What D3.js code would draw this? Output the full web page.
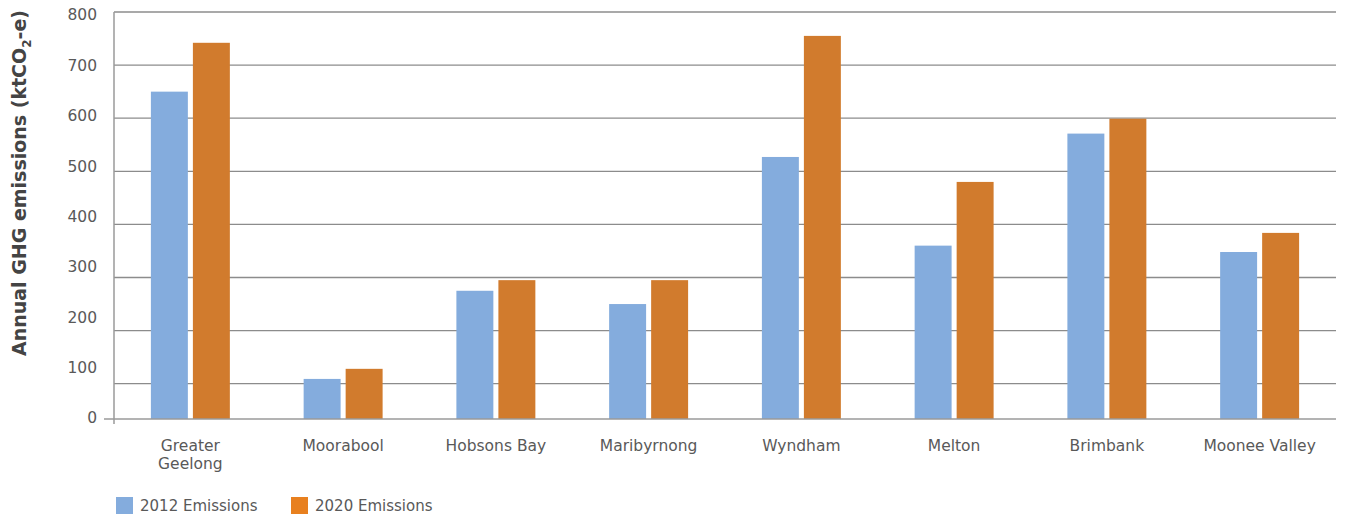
<!DOCTYPE html>
<html>
<head>
<meta charset="utf-8">
<script src="https://cdn.jsdelivr.net/npm/d3@7"></script>
<style>
  html, body { margin: 0; padding: 0; background: #fff; }
  svg { display: block; font-family: "DejaVu Sans", sans-serif; }
</style>
</head>
<body>
<svg id="chart" width="1346" height="515"></svg>
<script>
// Annual GHG emissions by municipality (ktCO2-e)
const categories = [
  ["Greater", "Geelong"], ["Moorabool"], ["Hobsons Bay"], ["Maribyrnong"],
  ["Wyndham"], ["Melton"], ["Brimbank"], ["Moonee Valley"]
];
const seriesNames = ["2012 Emissions", "2020 Emissions"];
const emissions2012 = [650, 109, 275, 250, 527, 360, 571, 348];
const emissions2020 = [742, 128, 295, 295, 755, 480, 599, 384];
const gridValues = [100, 200, 300, 400, 500, 600, 700, 800];
const tickLabels = [0, 100, 200, 300, 400, 500, 600, 700, 800];

const barColors = ["#84acdd", "#d17b2d"];
const legendColors = ["#84acdd", "#e8801f"];
const textColor = "#595959";

const svg = d3.select("#chart");
const plotLeft = 114, plotRight = 1336, plotTop = 12, baseline = 419;

const keys = categories.map(c => c.join(" "));
const x0 = d3.scaleBand().domain(keys).range([plotLeft, plotRight])
  .paddingInner(0.483).paddingOuter(0.2415);
const x1 = d3.scaleBand().domain(seriesNames).range([0, x0.bandwidth()])
  .paddingInner(0.12);

// value scale for bars and gridlines
const y = d3.scaleLinear().domain([100, 800]).range([383.7, plotTop]);
// value labels along the left edge
const yLabel = d3.scaleLinear().domain([0, 800]).range([418, 15]);

// gridlines
svg.append("g").selectAll("line").data(gridValues).join("line")
  .attr("x1", plotLeft).attr("x2", plotRight)
  .attr("y1", d => y(d)).attr("y2", d => y(d))
  .attr("stroke", "#8c8c8c").attr("stroke-width", 1.3);

// bars
const rows = keys.map((k, i) => ({ key: k, values: [emissions2012[i], emissions2020[i]] }));
const groups = svg.append("g").selectAll("g").data(rows).join("g")
  .attr("transform", d => `translate(${x0(d.key)},0)`);
groups.selectAll("rect")
  .data(d => d.values.map((v, j) => ({ name: seriesNames[j], value: v, j })))
  .join("rect")
  .attr("x", d => x1(d.name))
  .attr("width", x1.bandwidth())
  .attr("y", d => y(d.value))
  .attr("height", d => baseline - y(d.value))
  .attr("fill", d => barColors[d.j]);

// axes lines
const axisColor = "#9a9a9a";
svg.append("line").attr("x1", plotLeft).attr("x2", plotLeft).attr("y1", plotTop).attr("y2", 424)
  .attr("stroke", axisColor).attr("stroke-width", 1.5);
svg.append("line").attr("x1", 104).attr("x2", plotRight).attr("y1", baseline).attr("y2", baseline)
  .attr("stroke", axisColor).attr("stroke-width", 1.5);

// y tick labels
const yAxis = svg.append("g").attr("transform", "translate(97,0)")
  .call(d3.axisLeft(yLabel).tickValues(tickLabels).tickSize(0).tickPadding(0));
yAxis.select(".domain").remove();
yAxis.selectAll("text")
  .attr("fill", textColor).style("font-size", "15.5px").style("font-family", "'DejaVu Sans', sans-serif");

// category labels
const catLabels = svg.append("g").selectAll("text").data(categories).join("text")
  .attr("x", (d, i) => x0(keys[i]) + x0.bandwidth() / 2)
  .attr("y", 451)
  .attr("text-anchor", "middle")
  .attr("fill", textColor)
  .style("font-size", "15.5px");
catLabels.selectAll("tspan").data(d => d).join("tspan")
  .attr("x", function () { return d3.select(this.parentNode).attr("x"); })
  .attr("dy", (d, i) => i === 0 ? 0 : 18)
  .text(d => d);

// y axis title
const title = svg.append("text")
  .attr("transform", "translate(26,183) rotate(-90)")
  .attr("text-anchor", "middle")
  .attr("fill", "#444")
  .style("font-size", "19px")
  .style("font-weight", "bold");
title.append("tspan").text("Annual GHG emissions (ktCO");
title.append("tspan").attr("dy", 5).style("font-size", "12px").text("2");
title.append("tspan").attr("dy", -5).text("-e)");

// legend
const legend = svg.append("g").selectAll("g").data(seriesNames).join("g")
  .attr("transform", (d, i) => `translate(${116 + i * 175},497)`);
legend.append("rect").attr("width", 17).attr("height", 17)
  .attr("fill", (d, i) => legendColors[i]);
legend.append("text").attr("x", 24).attr("y", 14)
  .attr("fill", textColor).style("font-size", "15px").text(d => d);
</script>
</body>
</html>
